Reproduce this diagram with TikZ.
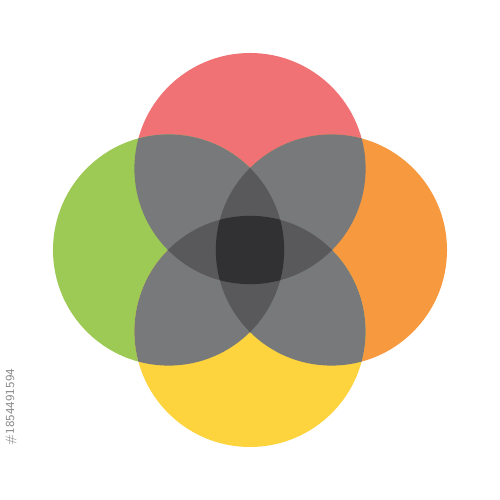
\documentclass[tikz,border=0pt]{standalone}
\definecolor{cred}{HTML}{F07274}
\definecolor{cgreen}{HTML}{9DC955}
\definecolor{corange}{HTML}{F7993F}
\definecolor{cyellow}{HTML}{FDD43E}
\definecolor{gray2}{HTML}{78797B}
\definecolor{gray3}{HTML}{59595B}
\definecolor{gray4}{HTML}{313032}
\definecolor{idgray}{HTML}{8A8A8A}
\tikzset{disc/.style={circle, inner sep=0pt, minimum size=4.624cm}}
\begin{document}
\begin{tikzpicture}
\useasboundingbox[fill=white] (0,0) rectangle (10,10);
\def\R{2.312}
\node[disc, fill=cred] (red) at (5,6.628) {};
\node[disc, fill=cgreen] (green) at (3.372,5) {};
\node[disc, fill=corange] (orange) at (6.628,5) {};
\node[disc, fill=cyellow] (yellow) at (5,3.372) {};
% two-fold overlaps
\begin{scope}\clip (red.center) circle (\R); \fill[gray2] (green.center) circle (\R); \fill[gray2] (orange.center) circle (\R); \end{scope}
\begin{scope}\clip (yellow.center) circle (\R); \fill[gray2] (green.center) circle (\R); \fill[gray2] (orange.center) circle (\R); \end{scope}
% three-fold overlaps
\begin{scope}\clip (red.center) circle (\R); \fill[gray3] (yellow.center) circle (\R); \end{scope}
\begin{scope}\clip (green.center) circle (\R); \fill[gray3] (orange.center) circle (\R); \end{scope}
% four-fold overlap
\begin{scope}\clip (red.center) circle (\R); \clip (yellow.center) circle (\R); \clip (green.center) circle (\R); \fill[gray4] (orange.center) circle (\R); \end{scope}
\node[rotate=90, text=idgray, font=\fontsize{7}{8}\selectfont\sffamily, inner sep=0pt] (id) at (0.22,1.86) {\#1854491594};
\end{tikzpicture}
\end{document}
